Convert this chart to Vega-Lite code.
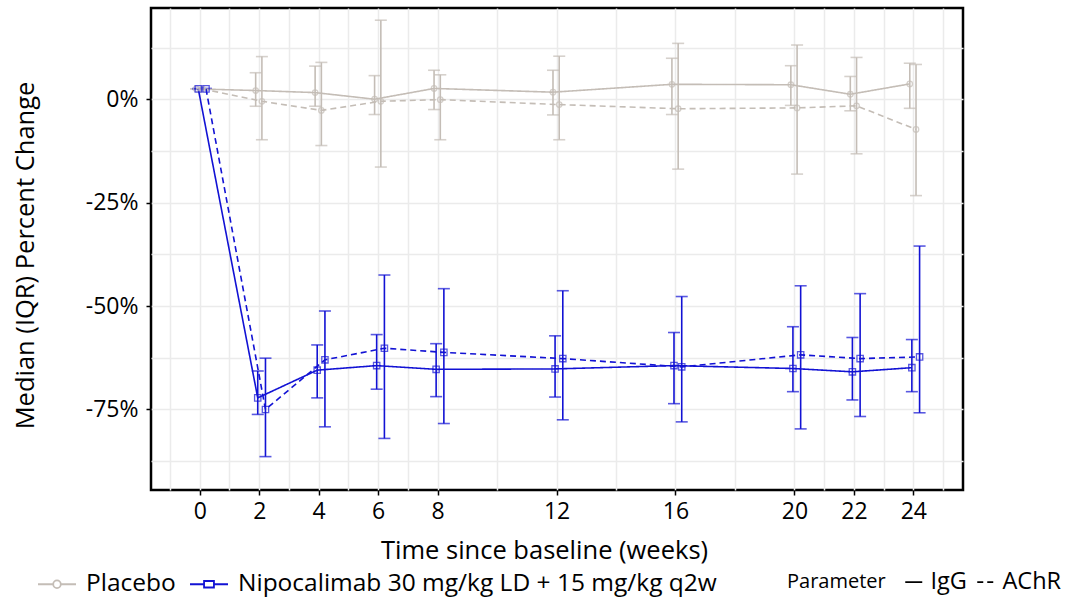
{
  "$schema": "https://vega.github.io/schema/vega-lite/v6.json",
  "width": 812,
  "height": 482,
  "autosize": {"type": "none"},
  "padding": {"left": 151, "top": 8, "right": 106, "bottom": 108},
  "background": "white",
  "config": {
    "font": "Open Sans",
    "view": {"stroke": "black", "strokeWidth": 2.5},
    "axis": {
      "labelFont": "Open Sans", "labelFontSize": 23, "labelColor": "black",
      "titleFont": "Open Sans", "titleFontSize": 25.5, "titleFontWeight": "normal", "titleColor": "black",
      "domain": false, "tickSize": 5, "tickWidth": 1.5,
      "gridColor": "#ebebeb", "gridWidth": 1.5
    },
    "legend": {"labelFont": "Open Sans", "titleFont": "Open Sans", "labelColor": "black", "titleColor": "black", "labelLimit": 700}
  },
  "data": {"values": [
    {"trt": "Placebo", "param": "IgG", "week": 0, "med": 2.5, "lo": 2.5, "hi": 2.5},
    {"trt": "Placebo", "param": "IgG", "week": 2, "med": 2.1, "lo": -1.7, "hi": 6.4},
    {"trt": "Placebo", "param": "IgG", "week": 4, "med": 1.6, "lo": -1.7, "hi": 8.0},
    {"trt": "Placebo", "param": "IgG", "week": 6, "med": 0.0, "lo": -3.7, "hi": 5.7},
    {"trt": "Placebo", "param": "IgG", "week": 8, "med": 2.6, "lo": -2.5, "hi": 7.0},
    {"trt": "Placebo", "param": "IgG", "week": 12, "med": 1.7, "lo": -3.8, "hi": 7.0},
    {"trt": "Placebo", "param": "IgG", "week": 16, "med": 3.6, "lo": -3.7, "hi": 9.9},
    {"trt": "Placebo", "param": "IgG", "week": 20, "med": 3.5, "lo": -1.5, "hi": 8.1},
    {"trt": "Placebo", "param": "IgG", "week": 22, "med": 1.2, "lo": -2.8, "hi": 5.5},
    {"trt": "Placebo", "param": "IgG", "week": 24, "med": 3.7, "lo": -2.2, "hi": 8.7},
    {"trt": "Placebo", "param": "AChR", "week": 0, "med": 2.5, "lo": 2.5, "hi": 2.5},
    {"trt": "Placebo", "param": "AChR", "week": 2, "med": -0.5, "lo": -9.8, "hi": 10.3},
    {"trt": "Placebo", "param": "AChR", "week": 4, "med": -2.7, "lo": -11.2, "hi": 8.9},
    {"trt": "Placebo", "param": "AChR", "week": 6, "med": -0.5, "lo": -16.4, "hi": 19.1},
    {"trt": "Placebo", "param": "AChR", "week": 8, "med": -0.1, "lo": -9.8, "hi": 5.9},
    {"trt": "Placebo", "param": "AChR", "week": 12, "med": -1.3, "lo": -9.8, "hi": 10.4},
    {"trt": "Placebo", "param": "AChR", "week": 16, "med": -2.3, "lo": -16.9, "hi": 13.5},
    {"trt": "Placebo", "param": "AChR", "week": 20, "med": -2.1, "lo": -18.1, "hi": 13.1},
    {"trt": "Placebo", "param": "AChR", "week": 22, "med": -1.6, "lo": -13.2, "hi": 10.1},
    {"trt": "Placebo", "param": "AChR", "week": 24, "med": -7.3, "lo": -23.3, "hi": 8.4},
    {"trt": "Nipocalimab 30 mg/kg LD + 15 mg/kg q2w", "param": "IgG", "week": 0, "med": 2.5, "lo": 2.4, "hi": 2.6},
    {"trt": "Nipocalimab 30 mg/kg LD + 15 mg/kg q2w", "param": "IgG", "week": 2, "med": -72.2, "lo": -76.2, "hi": -65.7},
    {"trt": "Nipocalimab 30 mg/kg LD + 15 mg/kg q2w", "param": "IgG", "week": 4, "med": -65.5, "lo": -72.2, "hi": -59.4},
    {"trt": "Nipocalimab 30 mg/kg LD + 15 mg/kg q2w", "param": "IgG", "week": 6, "med": -64.4, "lo": -70.1, "hi": -56.9},
    {"trt": "Nipocalimab 30 mg/kg LD + 15 mg/kg q2w", "param": "IgG", "week": 8, "med": -65.3, "lo": -71.9, "hi": -59.1},
    {"trt": "Nipocalimab 30 mg/kg LD + 15 mg/kg q2w", "param": "IgG", "week": 12, "med": -65.2, "lo": -72.0, "hi": -57.2},
    {"trt": "Nipocalimab 30 mg/kg LD + 15 mg/kg q2w", "param": "IgG", "week": 16, "med": -64.4, "lo": -73.6, "hi": -56.4},
    {"trt": "Nipocalimab 30 mg/kg LD + 15 mg/kg q2w", "param": "IgG", "week": 20, "med": -65.1, "lo": -70.7, "hi": -55.0},
    {"trt": "Nipocalimab 30 mg/kg LD + 15 mg/kg q2w", "param": "IgG", "week": 22, "med": -65.9, "lo": -72.7, "hi": -57.6},
    {"trt": "Nipocalimab 30 mg/kg LD + 15 mg/kg q2w", "param": "IgG", "week": 24, "med": -64.9, "lo": -70.7, "hi": -58.1},
    {"trt": "Nipocalimab 30 mg/kg LD + 15 mg/kg q2w", "param": "AChR", "week": 0, "med": 2.5, "lo": 2.4, "hi": 2.6},
    {"trt": "Nipocalimab 30 mg/kg LD + 15 mg/kg q2w", "param": "AChR", "week": 2, "med": -75.0, "lo": -86.4, "hi": -62.6},
    {"trt": "Nipocalimab 30 mg/kg LD + 15 mg/kg q2w", "param": "AChR", "week": 4, "med": -63.0, "lo": -79.2, "hi": -51.2},
    {"trt": "Nipocalimab 30 mg/kg LD + 15 mg/kg q2w", "param": "AChR", "week": 6, "med": -60.2, "lo": -82.0, "hi": -42.5},
    {"trt": "Nipocalimab 30 mg/kg LD + 15 mg/kg q2w", "param": "AChR", "week": 8, "med": -61.2, "lo": -78.4, "hi": -45.8},
    {"trt": "Nipocalimab 30 mg/kg LD + 15 mg/kg q2w", "param": "AChR", "week": 12, "med": -62.7, "lo": -77.5, "hi": -46.3},
    {"trt": "Nipocalimab 30 mg/kg LD + 15 mg/kg q2w", "param": "AChR", "week": 16, "med": -64.7, "lo": -78.0, "hi": -47.7},
    {"trt": "Nipocalimab 30 mg/kg LD + 15 mg/kg q2w", "param": "AChR", "week": 20, "med": -61.8, "lo": -79.7, "hi": -45.1},
    {"trt": "Nipocalimab 30 mg/kg LD + 15 mg/kg q2w", "param": "AChR", "week": 22, "med": -62.7, "lo": -76.7, "hi": -47.0},
    {"trt": "Nipocalimab 30 mg/kg LD + 15 mg/kg q2w", "param": "AChR", "week": 24, "med": -62.3, "lo": -75.8, "hi": -35.5}
  ]},
  "transform": [
    {"calculate": "datum.week + (datum.trt === 'Placebo' ? (datum.param === 'IgG' ? -0.12 : 0.09) : (datum.param === 'IgG' ? -0.05 : 0.21))", "as": "xpos"}
  ],
  "encoding": {
    "x": {
      "field": "xpos", "type": "quantitative",
      "scale": {"domain": [-1.64, 25.67], "nice": false, "zero": false},
      "axis": {
        "values": [-1, 0, 1, 2, 3, 4, 5, 6, 7, 8, 10, 12, 14, 16, 18, 20, 21, 22, 23, 24, 25],
        "labelExpr": "indexof([0,2,4,6,8,12,16,20,22,24], datum.value) >= 0 ? datum.label : ''",
        "format": "d",
        "tickColor": {"condition": {"test": "indexof([0,2,4,6,8,12,16,20,22,24], datum.value) >= 0", "value": "black"}, "value": "transparent"},
        "labelPadding": 5,
        "title": "Time since baseline (weeks)",
        "titleX": 393, "titleY": 60, "titleBaseline": "middle", "titleAnchor": "middle"
      }
    },
    "y": {
      "type": "quantitative",
      "scale": {"domain": [-94.47, 22.05], "nice": false, "zero": false},
      "axis": {
        "values": [12.5, 0, -12.5, -25, -37.5, -50, -62.5, -75, -87.5],
        "labelExpr": "datum.value % 25 === 0 ? datum.value + '%' : ''",
        "tickColor": {"condition": {"test": "datum.value % 25 === 0", "value": "black"}, "value": "transparent"},
        "labelPadding": 8,
        "title": "Median (IQR) Percent Change",
        "titleX": -126, "titleY": 247, "titleBaseline": "middle", "titleAnchor": "middle", "titleAngle": -90
      }
    },
    "color": {
      "field": "trt", "type": "nominal",
      "scale": {"domain": ["Placebo", "Nipocalimab 30 mg/kg LD + 15 mg/kg q2w"], "range": ["#c4bdb6", "#1212d4"]},
      "legend": {
        "orient": "none", "legendX": -114, "legendY": 556, "direction": "horizontal",
        "title": null, "labelFontSize": 24.5, "labelOffset": 9, "columnPadding": 10,
        "symbolSize": 1444, "symbolStrokeWidth": 1.8,
        "encode": {"symbols": {"update": {
          "shape": {"signal": "datum.value === 'Placebo' ? 'M-1,0H-0.2M0.2,0H1M-0.2,0A0.2,0.2,0,1,0,0.2,0A0.2,0.2,0,1,0,-0.2,0Z' : 'M-1,0H-0.26M0.26,0H1M-0.26,-0.17H0.26V0.17H-0.26Z'"},
          "stroke": {"signal": "datum.value === 'Placebo' ? '#c4bdb6' : '#1212d4'"},
          "fillOpacity": {"value": 0},
          "strokeWidth": {"value": 1.8},
          "opacity": {"value": 1}
        }}}
      }
    }
  },
  "layer": [
    {
      "mark": {"type": "errorbar", "thickness": 1.6, "ticks": {"size": 12, "thickness": 1.6}},
      "encoding": {
        "y": {"field": "lo", "type": "quantitative", "title": "Median (IQR) Percent Change"},
        "y2": {"field": "hi"},
        "detail": {"field": "param"}
      }
    },
    {
      "mark": {"type": "line", "strokeWidth": 1.6},
      "encoding": {
        "y": {"field": "med", "type": "quantitative", "title": "Median (IQR) Percent Change"},
        "detail": {"field": "param"},
        "strokeDash": {
          "field": "param", "type": "nominal",
          "scale": {"domain": ["IgG", "AChR"], "range": [[1, 0], [6, 4]]},
          "legend": {
            "orient": "none", "legendX": 636, "legendY": 562, "direction": "horizontal",
            "title": "Parameter", "titleOrient": "left", "titleFontSize": 20, "titleFontWeight": "normal",
            "titleAnchor": "middle", "titleBaseline": "middle", "titlePadding": 16,
            "labelFontSize": 23.5, "labelOffset": 5, "columnPadding": 7,
            "symbolType": "stroke", "symbolSize": 289, "symbolStrokeWidth": 1.6,
            "encode": {"symbols": {"update": {"stroke": {"value": "black"}, "opacity": {"value": 1}, "strokeDash": {"signal": "datum.value === 'AChR' ? [4, 3] : [1, 0]"}}}}
          }
        }
      }
    },
    {
      "transform": [{"filter": "datum.trt === 'Placebo'"}],
      "mark": {"type": "point", "shape": "circle", "filled": false, "size": 30, "strokeWidth": 1.3},
      "encoding": {"y": {"field": "med", "type": "quantitative"}}
    },
    {
      "transform": [{"filter": "datum.trt !== 'Placebo'"}],
      "mark": {"type": "point", "shape": "square", "filled": false, "size": 40, "strokeWidth": 1.3},
      "encoding": {"y": {"field": "med", "type": "quantitative"}}
    }
  ]
}
